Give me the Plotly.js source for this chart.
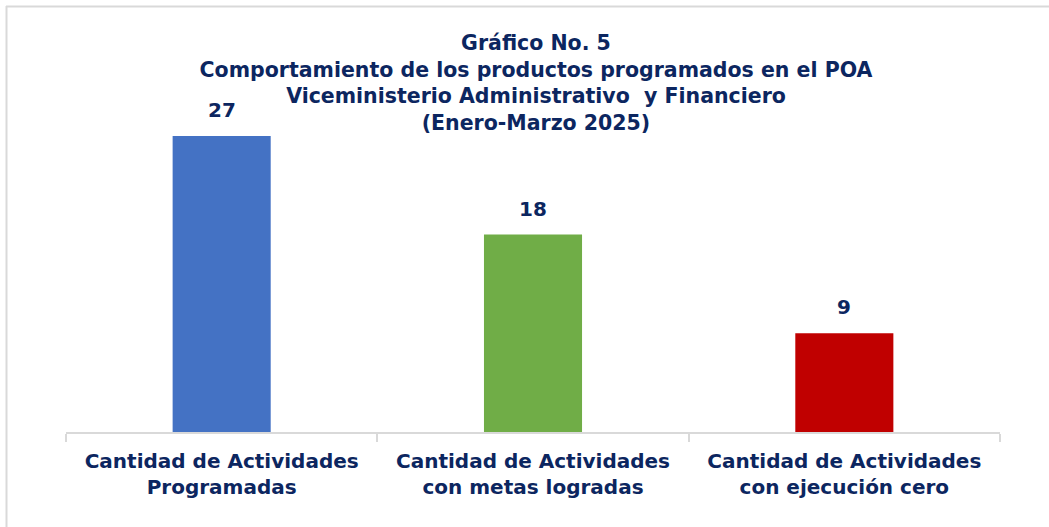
<!DOCTYPE html>
<html>
<head>
<meta charset="utf-8">
<script src="https://cdn.plot.ly/plotly-3.0.1.min.js"></script>
<style>
  html, body { margin: 0; padding: 0; background: #ffffff; }
  #chart { width: 1049px; height: 527px; }
</style>
</head>
<body>
<div id="chart"></div>
<script>
// Data
const categories = [
  "Cantidad de Actividades<br>Programadas",
  "Cantidad de Actividades<br>con metas logradas",
  "Cantidad de Actividades<br>con ejecución cero"
];
const values = [27, 18, 9];
const barColors = ["#4472C4", "#70AD47", "#C00000"];
const titleLines = [
  "Gráfico No. 5",
  "Comportamiento de los productos programados en el POA",
  "Viceministerio Administrativo  y Financiero",
  "(Enero-Marzo 2025)"
];

const navy = "#0C2660";
const fontFam = "'DejaVu Sans', Lato, sans-serif";

const W = 1049, H = 527;
const m = { l: 66, r: 49, t: 103, b: 95 };
const pw = W - m.l - m.r, ph = H - m.t - m.b;
const px2x = (x) => (x - m.l) / pw;
const px2y = (y) => (H - m.b - y) / ph;

const trace = {
  type: "bar",
  x: categories,
  y: values,
  marker: { color: barColors },
  hoverinfo: "x+y"
};

const annotations = categories.map((c, i) => ({
  x: c, y: values[i], xref: "x", yref: "y",
  text: "<b>" + values[i] + "</b>",
  showarrow: false, yanchor: "bottom", yshift: 12,
  font: { family: fontFam, size: 20, color: navy }
}));

const layout = {
  width: W, height: H,
  margin: m,
  paper_bgcolor: "#ffffff",
  plot_bgcolor: "#ffffff",
  showlegend: false,
  bargap: 0.685,
  title: {
    text: titleLines.map(s => "<b>" + s + "</b>").join("<br>"),
    font: { family: fontFam, size: 20.5, color: navy },
    x: px2x(536), xref: "paper", xanchor: "center",
    y: 1 - 50 / H, yref: "container", yanchor: "top"
  },
  xaxis: {
    type: "category",
    showline: true, linecolor: "#D9D9D9", linewidth: 2,
    ticks: "outside", tickson: "boundaries", ticklen: 8,
    tickcolor: "#D9D9D9", tickwidth: 2,
    showgrid: false, zeroline: false,
    ticklabelstandoff: 10,
    tickfont: { family: fontFam, size: 20, color: navy },
    fixedrange: true
  },
  yaxis: {
    range: [0, 30],
    visible: false,
    showgrid: false, zeroline: false,
    fixedrange: true
  },
  annotations: annotations,
  shapes: [
    { type: "line", xref: "paper", yref: "paper",
      x0: px2x(6.5), x1: px2x(6.5), y0: px2y(527), y1: px2y(6),
      line: { color: "#D9D9D9", width: 2 } },
    { type: "line", xref: "paper", yref: "paper",
      x0: px2x(6), x1: px2x(1049), y0: px2y(6.5), y1: px2y(6.5),
      line: { color: "#D9D9D9", width: 2 } }
  ]
};

// bold tick labels
layout.xaxis.tickvals = categories;
layout.xaxis.ticktext = categories.map(c => "<b>" + c + "</b>");

Plotly.newPlot("chart", [trace], layout, { displayModeBar: false, staticPlot: false });
</script>
</body>
</html>
